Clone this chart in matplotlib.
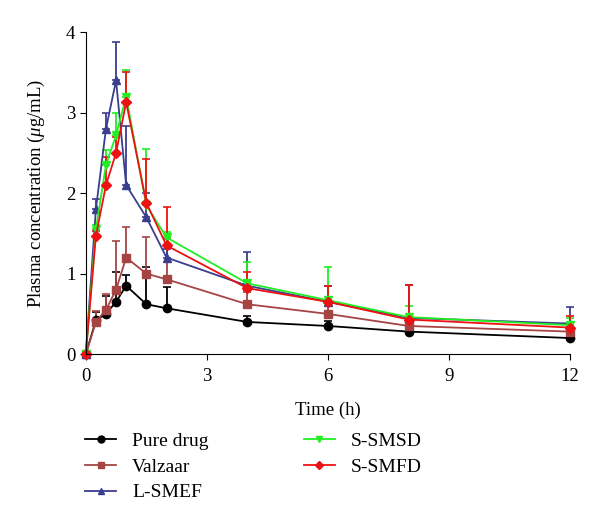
import matplotlib
matplotlib.use("Agg")
import matplotlib.pyplot as plt
from matplotlib.lines import Line2D

plt.rcParams.update({
    "font.family": ["Liberation Serif", "DejaVu Serif"],
    "mathtext.fontset": "custom",
    "mathtext.rm": "Liberation Serif",
    "mathtext.it": "Liberation Serif:italic",
    "font.size": 13,
})

# ── Data ────────────────────────────────────────────────────────────────────
time_h = [0, 0.25, 0.5, 0.75, 1, 1.5, 2, 4, 6, 8, 12]

pure_drug     = [0, 0.42, 0.50, 0.65, 0.85, 0.62, 0.57, 0.40, 0.35, 0.28, 0.20]
pure_drug_err = [0, 0.10, 0.22, 0.37, 0.13, 0.46, 0.26, 0.08, 0.06, 0.04, 0.03]

valzaar     = [0, 0.40, 0.55, 0.80, 1.20, 1.00, 0.93, 0.62, 0.50, 0.35, 0.28]
valzaar_err = [0, 0.13, 0.20, 0.60, 0.38, 0.45, 0.50, 0.15, 0.10, 0.08, 0.06]

l_smef     = [0, 1.80, 2.80, 3.40, 2.10, 1.70, 1.20, 0.85, 0.65, 0.45, 0.38]
l_smef_err = [0, 0.13, 0.20, 0.48, 0.74, 0.30, 0.10, 0.42, 0.20, 0.41, 0.20]

s_smsd     = [0, 1.55, 2.35, 2.72, 3.20, 1.85, 1.45, 0.88, 0.67, 0.46, 0.36]
s_smsd_err = [0, 0.05, 0.18, 0.28, 0.33, 0.70, 0.07, 0.27, 0.41, 0.14, 0.09]

s_smfd     = [0, 1.47, 2.10, 2.50, 3.13, 1.88, 1.35, 0.82, 0.65, 0.43, 0.33]
s_smfd_err = [0, 0.06, 0.35, 0.20, 0.37, 0.55, 0.48, 0.20, 0.20, 0.43, 0.15]

series = [
    ("Pure drug", pure_drug, pure_drug_err, "black", "o"),
    ("Valzaar", valzaar, valzaar_err, "#A64444", "s"),
    ("L-SMEF", l_smef, l_smef_err, "#3A3E8E", "^"),
    ("S-SMSD", s_smsd, s_smsd_err, "#22EE22", "v"),
    ("S-SMFD", s_smfd, s_smfd_err, "#EE1111", "D"),
]

fig = plt.figure(figsize=(6.0, 5.27), dpi=100)
ax = fig.add_axes([0.143, 0.328, 0.807, 0.611])

handles = []
for name, vals, err, color, marker in series:
    ms = 5 if marker == "D" else 6
    ax.errorbar(time_h, vals, yerr=[[0] * len(err), err],
                color=color, marker=marker, markersize=ms, linewidth=1.3,
                elinewidth=1.3, capsize=3, capthick=1.2, clip_on=False)
    handles.append(Line2D([], [], color=color, marker=marker,
                          markersize=5 if marker != "D" else 4.5,
                          linewidth=1.3, label=name))

ax.set_xlim(0, 12)
ax.set_ylim(0, 4)
ax.set_xticks([0, 3, 6, 9, 12])
ax.set_yticks([0, 1, 2, 3, 4])
ax.spines["top"].set_visible(False)
ax.spines["right"].set_visible(False)
ax.tick_params(direction="out", length=4, labelsize=13.5)
ax.tick_params(axis="x", pad=6)

ax.set_xlabel("Time (h)", fontsize=13.5, labelpad=12)
ax.set_ylabel(r"Plasma concentration ($\mu$g/mL)", fontsize=13.5, labelpad=14)

fig.legend(handles=handles, ncol=2, loc="upper left",
           bbox_to_anchor=(0.113, 0.213), frameon=False,
           fontsize=14, columnspacing=4.9, handlelength=1.6,
           handletextpad=0.8, labelspacing=0.42)

fig.savefig("out.png", dpi=100)
